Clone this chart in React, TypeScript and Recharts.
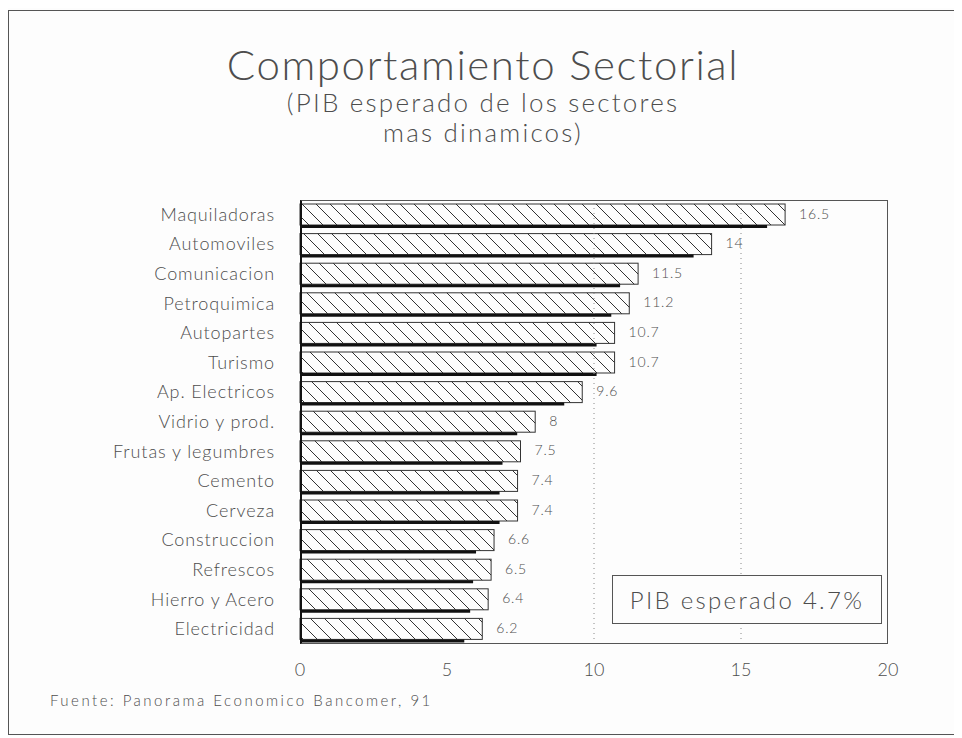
import React from "react";
import { BarChart, Bar, XAxis, YAxis, ReferenceLine, LabelList } from "recharts";

const categories = [
  "Maquiladoras",
  "Automoviles",
  "Comunicacion",
  "Petroquimica",
  "Autopartes",
  "Turismo",
  "Ap. Electricos",
  "Vidrio y prod.",
  "Frutas y legumbres",
  "Cemento",
  "Cerveza",
  "Construccion",
  "Refrescos",
  "Hierro y Acero",
  "Electricidad",
];
const values = [16.5, 14, 11.5, 11.2, 10.7, 10.7, 9.6, 8, 7.5, 7.4, 7.4, 6.6, 6.5, 6.4, 6.2];
const xTicks = [0, 5, 10, 15, 20];
const gridValues = [10, 15];
const titleText = "Comportamiento Sectorial";
const subtitleLines = ["(PIB esperado de los sectores", "mas dinamicos)"];
const legendText = "PIB esperado 4.7%";
const sourceText = "Fuente: Panorama Economico Bancomer, 91";

const data = categories.map((c, i) => ({ name: c, value: values[i] }));

const FONT = "Lato, 'Open Sans', sans-serif";
const TEXT = "#4d4d4d";

const HatchBar = (props: any) => {
  const { x, y, width, height } = props;
  if (width == null || width <= 0) return null;
  const shadowEnd = Math.max(x, x + width - 18);
  return (
    <g>
      <rect x={x} y={y} width={width} height={height} fill="url(#hatch)" stroke="#333" strokeWidth={1} />
      <line x1={x} y1={y + height + 1.5} x2={shadowEnd} y2={y + height + 1.5} stroke="#111" strokeWidth={3} />
    </g>
  );
};

const CatTick = (props: any) => {
  const { x, y, payload } = props;
  return (
    <text x={x - 17} y={y} dy={6} textAnchor="end" fill={TEXT} fontSize={18} fontWeight={300} fontFamily={FONT} letterSpacing={0.9}>
      {payload.value}
    </text>
  );
};

const ValueLabel = (props: any) => {
  const { x, y, width, height, value } = props;
  return (
    <text x={x + width + 14} y={y + height / 2 + 4} fill={TEXT} fontSize={14} fontWeight={300} fontFamily={FONT} letterSpacing={0.8}>
      {value}
    </text>
  );
};

export default function App() {
  return (
    <div style={{ position: "relative", width: 950, height: 728, background: "#fdfdfd", fontFamily: FONT }}>
      <div
        style={{
          position: "absolute",
          left: 0,
          top: 2,
          width: 948,
          height: 723,
          border: "1.5px solid #555",
          pointerEvents: "none",
        }}
      />
      <div
        style={{
          position: "absolute",
          left: 0,
          top: 35,
          width: 950,
          textAlign: "center",
          fontSize: 42,
          lineHeight: "42px",
          fontWeight: 300,
          color: TEXT,
          letterSpacing: 1.6,
        }}
      >
        {titleText}
      </div>
      <div
        style={{
          position: "absolute",
          left: 0,
          top: 79,
          width: 950,
          textAlign: "center",
          fontSize: 26,
          lineHeight: "30px",
          fontWeight: 300,
          color: TEXT,
          letterSpacing: 2.2,
        }}
      >
        {subtitleLines.map((l, i) => (
          <div key={i}>{l}</div>
        ))}
      </div>
      <BarChart
        width={950}
        height={728}
        data={data}
        layout="vertical"
        margin={{ top: 192, right: 70, bottom: 52, left: 0 }}
        barSize={21}
      >
        <defs>
          <pattern id="hatch" patternUnits="userSpaceOnUse" width="14" height="14">
            <path d="M0,0 L14,14 M-7,7 L7,21 M7,-7 L21,7" stroke="#333" strokeWidth={1} />
          </pattern>
        </defs>
        <XAxis
          type="number"
          domain={[0, 20]}
          ticks={xTicks}
          axisLine={false}
          tickLine={false}
          tick={{ fill: TEXT, fontSize: 18, fontWeight: 300, fontFamily: FONT }}
          tickMargin={13}
          height={40}
        />
        <YAxis
          type="category"
          dataKey="name"
          width={292}
          axisLine={false}
          tickLine={false}
          tick={<CatTick />}
          interval={0}
        />
        {gridValues.map((g) => (
          <ReferenceLine key={g} x={g} stroke="#888" strokeDasharray="1 4" strokeWidth={1} />
        ))}
        <Bar dataKey="value" shape={<HatchBar />} isAnimationActive={false}>
          <LabelList dataKey="value" content={<ValueLabel />} />
        </Bar>
      </BarChart>
      <div
        style={{
          position: "absolute",
          left: 292,
          top: 192,
          width: 585,
          height: 442,
          borderTop: "1px solid #555",
          borderRight: "1px solid #555",
          borderBottom: "1px solid #555",
          borderLeft: "2px solid #111",
          pointerEvents: "none",
        }}
      />
      <div
        style={{
          position: "absolute",
          left: 604,
          top: 567,
          width: 268,
          height: 47,
          border: "1px solid #555",
          background: "#fdfdfd",
          display: "flex",
          alignItems: "center",
          justifyContent: "center",
          fontSize: 24,
          fontWeight: 300,
          color: TEXT,
          letterSpacing: 2.3,
        }}
      >
        {legendText}
      </div>
      <div
        style={{
          position: "absolute",
          left: 42,
          top: 685,
          fontSize: 15,
          lineHeight: "15px",
          fontWeight: 300,
          color: TEXT,
          letterSpacing: 2.5,
          whiteSpace: "nowrap",
        }}
      >
        {sourceText}
      </div>
    </div>
  );
}
